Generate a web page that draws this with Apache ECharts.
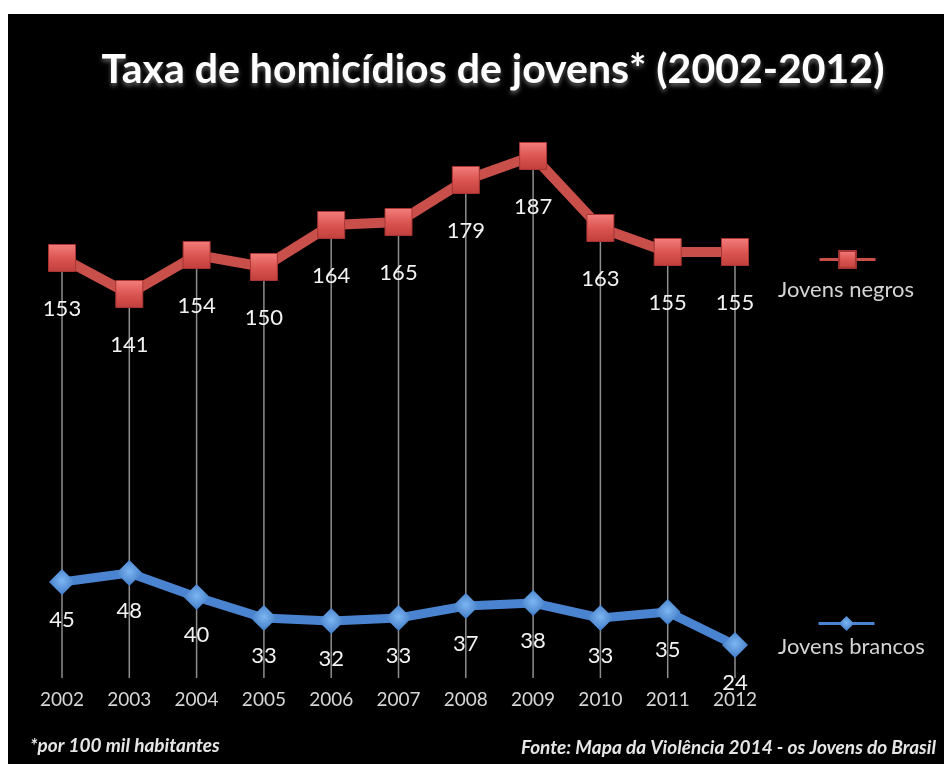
<!DOCTYPE html>
<html>
<head>
<meta charset="utf-8">
<title>Taxa de homicídios de jovens (2002-2012)</title>
<script src="https://cdn.jsdelivr.net/npm/echarts@6/dist/echarts.min.js"></script>
<style>
  html, body { margin: 0; padding: 0; background: #ffffff; }
  #chart { position: absolute; left: 8px; top: 14px; width: 936px; height: 750px; }
</style>
</head>
<body>
<div id="chart"></div>
<script>
// Categories and values (taxa por 100 mil habitantes)
const years = ['2002', '2003', '2004', '2005', '2006', '2007', '2008', '2009', '2010', '2011', '2012'];
const negros = [153, 141, 154, 150, 164, 165, 179, 187, 163, 155, 155];
const brancos = [45, 48, 40, 33, 32, 33, 37, 38, 33, 35, 24];
const seriesNames = ['Jovens negros', 'Jovens brancos'];

const titleText = 'Taxa de homicídios de jovens* (2002-2012)';
const noteText = '*por 100 mil habitantes';
const sourceText = 'Fonte: Mapa da Violência 2014 - os Jovens do Brasil';

const FONT = 'Lato, "Open Sans", sans-serif';

const chart = echarts.init(document.getElementById('chart'));

const redSquare = {
  type: 'linear', x: 0, y: 0, x2: 0, y2: 1,
  colorStops: [
    { offset: 0, color: '#f27e7c' },
    { offset: 0.5, color: '#dc5653' },
    { offset: 1, color: '#bf3e3b' }
  ]
};
const blueDiamond = {
  type: 'radial', x: 0.5, y: 0.45, r: 0.6,
  colorStops: [
    { offset: 0, color: '#7db6f2' },
    { offset: 1, color: '#3c76c2' }
  ]
};

chart.setOption({
  backgroundColor: '#000000',
  animation: false,
  grid: {
    left: 20.35, right: 175.35, top: 103, bottom: 86,
    containLabel: false, outerBoundsMode: 'none'
  },
  xAxis: {
    type: 'category',
    data: years,
    boundaryGap: true,
    axisLine: { show: false },
    axisTick: { show: false },
    splitLine: { show: false },
    axisLabel: { color: '#d6d6d6', fontFamily: FONT, fontSize: 19, margin: 12 }
  },
  yAxis: {
    type: 'value',
    min: 13, max: 200,
    show: false,
    splitLine: { show: false }
  },
  legend: [
    {
      data: [seriesNames[0]],
      left: 805, top: 230,
      itemWidth: 56, itemHeight: 21,
      formatter: () => '',
      selectedMode: false,
      lineStyle: { width: 3 }
    },
    {
      data: [seriesNames[1]],
      left: 804, top: 595,
      itemWidth: 56, itemHeight: 19,
      formatter: () => '',
      selectedMode: false,
      lineStyle: { width: 3 }
    }
  ],
  graphic: [
    {
      type: 'text', x: 485, y: 56, z: 10,
      style: {
        text: titleText,
        fill: '#ffffff',
        font: 'bold 41px ' + FONT,
        textAlign: 'center',
        textVerticalAlign: 'middle',
        textShadowColor: 'rgba(170,170,170,0.55)',
        textShadowBlur: 4,
        textShadowOffsetY: 3
      }
    },
    {
      type: 'text', x: 770, y: 276, z: 10,
      style: { text: seriesNames[0], fill: '#d4d4d4', font: '22px ' + FONT, textVerticalAlign: 'middle' }
    },
    {
      type: 'text', x: 770, y: 633, z: 10,
      style: { text: seriesNames[1], fill: '#d4d4d4', font: '22px ' + FONT, textVerticalAlign: 'middle' }
    },
    {
      type: 'text', x: 22, y: 732, z: 10,
      style: { text: noteText, fill: '#e6e6e6', font: 'italic bold 19px ' + FONT, textVerticalAlign: 'middle' }
    },
    {
      type: 'text', x: 928, y: 734, z: 10,
      style: { text: sourceText, fill: '#e6e6e6', font: 'italic bold 19px ' + FONT, textAlign: 'right', textVerticalAlign: 'middle' }
    }
  ],
  series: [
    {
      // drop lines from the upper series down to the category axis
      name: 'drop',
      type: 'bar',
      data: negros,
      barWidth: 1.5,
      clip: true,
      z: 1,
      silent: true,
      itemStyle: { color: '#8e8e8e' }
    },
    {
      name: seriesNames[1],
      type: 'line',
      data: brancos,
      z: 3,
      symbol: 'diamond',
      symbolSize: 26,
      lineStyle: { color: '#4a83cf', width: 9 },
      itemStyle: { color: blueDiamond },
      label: {
        show: true, position: 'bottom', distance: 14,
        color: '#f2f2f2', fontFamily: FONT, fontSize: 22
      }
    },
    {
      name: seriesNames[0],
      type: 'line',
      data: negros,
      z: 4,
      symbol: 'rect',
      symbolSize: 27,
      lineStyle: { color: '#c94f4b', width: 10 },
      itemStyle: { color: redSquare, borderColor: '#a83532', borderWidth: 1 },
      label: {
        show: true, position: 'bottom', distance: 26,
        color: '#f2f2f2', fontFamily: FONT, fontSize: 22
      }
    }
  ]
});
</script>
</body>
</html>
